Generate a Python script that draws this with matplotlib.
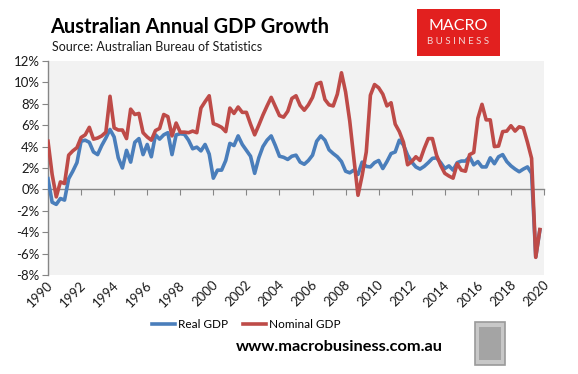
import numpy as np
import matplotlib
matplotlib.use("Agg")
import matplotlib.pyplot as plt
from matplotlib.patches import Rectangle
from matplotlib.transforms import ScaledTranslation

# ---- data (quarterly, annual % growth) ----
real_gdp = [1.0, -1.2, -1.4, -0.85, -1.0, 1.0, 1.7, 2.5, 4.5, 4.6,
            4.4, 3.5, 3.25, 4.1, 4.8, 5.6, 4.9, 2.95, 2.0, 3.65,
            2.55, 4.4, 4.75, 3.25, 4.2, 3.05, 5.1, 4.7, 5.1, 5.3,
            3.25, 5.1, 5.2, 5.15, 4.6, 3.8, 3.95, 3.6, 4.2, 3.3,
            1.05, 1.8, 1.8, 2.7, 4.3, 4.1, 5.0, 4.2, 3.65, 3.1,
            1.5, 2.95, 4.0, 4.6, 5.0, 4.1, 3.1, 3.0, 2.8, 3.1,
            3.2, 2.55, 2.35, 2.7, 3.2, 4.5, 5.0, 4.6, 3.7, 3.35,
            3.05, 2.6, 1.7, 1.55, 1.8, 1.4, 2.55, 2.15, 2.1, 2.5,
            2.7, 1.95, 2.6, 3.35, 3.5, 4.6, 4.15, 3.2, 2.55, 2.1,
            1.9, 2.15, 2.5, 2.9, 2.95, 2.5, 1.95, 2.2, 1.8, 2.5,
            2.65, 2.65, 3.05, 2.3, 2.6, 2.1, 2.1, 2.95, 2.4, 3.05,
            3.25, 2.6, 2.2, 1.9, 1.65, 1.9, 2.1, 1.5, -6.3, -3.8]
nominal_gdp = [4.5, 1.4, -0.7, 0.7, 0.55, 3.2, 3.6, 3.9, 4.85, 5.1,
               5.8, 4.7, 4.8, 5.0, 5.35, 8.7, 5.75, 5.55, 5.55, 4.75,
               7.5, 7.0, 7.1, 5.3, 4.9, 4.6, 5.5, 5.7, 7.0, 6.8,
               5.0, 6.2, 5.35, 5.35, 5.3, 5.45, 5.3, 7.6, 8.2, 8.75,
               6.15, 6.0, 5.8, 5.4, 7.6, 7.1, 7.7, 7.2, 7.2, 6.1,
               5.1, 6.0, 6.95, 7.8, 8.6, 7.75, 6.9, 6.75, 7.3, 8.5,
               8.75, 7.85, 7.4, 7.9, 8.6, 9.85, 10.0, 8.4, 7.9, 7.8,
               8.9, 10.9, 9.1, 6.4, 2.9, -0.55, 1.3, 3.5, 8.8, 9.8,
               9.5, 8.9, 7.8, 8.1, 6.1, 5.4, 4.4, 2.3, 2.6, 3.05,
               2.7, 3.8, 4.75, 4.75, 3.2, 2.25, 1.5, 1.25, 1.05, 2.4,
               1.8, 1.7, 3.25, 3.45, 6.65, 7.95, 6.5, 6.5, 4.0, 4.05,
               5.4, 5.45, 5.95, 5.45, 5.85, 5.75, 4.4, 2.9, -6.35, -3.75]
start_year = 1990
x_years = start_year + 0.25 * np.arange(len(real_gdp))
year_ticks = list(range(1990, 2021, 2))
y_ticks = list(range(-8, 13, 2))

FONT = ["Lato", "DejaVu Sans"]
plt.rcParams["font.family"] = FONT

W, H = 578, 374
fig = plt.figure(figsize=(W / 100, H / 100), dpi=100)
fig.patch.set_facecolor("white")

def fx(px):
    return px / W

def fy(py):
    return 1 - py / H

ax = fig.add_axes([fx(48), fy(275), fx(544) - fx(48), fy(61) - fy(275)])
ax.set_facecolor("#F2F2F2")

ax.plot(x_years, real_gdp, color="#4A7EBB", lw=2.6, solid_joinstyle="round",
        label="Real GDP", zorder=3)
ax.plot(x_years, nominal_gdp, color="#BE4B48", lw=2.6, solid_joinstyle="round",
        label="Nominal GDP", zorder=4)

ax.set_xlim(1990, 2020)
ax.set_ylim(-8, 12)

axis_col = "#868686"
for s in ["top", "right"]:
    ax.spines[s].set_visible(False)
ax.spines["left"].set_color(axis_col)
ax.spines["left"].set_linewidth(1.0)
ax.spines["bottom"].set_position(("data", 0))
ax.spines["bottom"].set_color(axis_col)
ax.spines["bottom"].set_linewidth(1.0)

ax.set_yticks(y_ticks)
ax.set_yticklabels([f"{v}%" for v in y_ticks], fontsize=9.5, color="#1a1a1a")
ax.tick_params(axis="y", direction="out", length=4, color=axis_col, pad=2)

ax.set_xticks(year_ticks)
ax.set_xticklabels([])
ax.tick_params(axis="x", direction="out", length=4, color=axis_col)

# rotated year labels below the plot area
trans = ax.get_xaxis_transform() + ScaledTranslation(3 / 100, -8 / 100, fig.dpi_scale_trans)
for yr in year_ticks:
    ax.text(yr, 0, str(yr), transform=trans, rotation=45, ha="right", va="center",
            rotation_mode="anchor", fontsize=9.5, color="#1a1a1a")

# legend
fig.legend(loc="center", bbox_to_anchor=(fx(246), fy(325)), ncol=2, frameon=False,
           fontsize=8.5, handlelength=1.95, handletextpad=0.25, columnspacing=1.3)

# titles
fig.text(fx(50), fy(27), "Australian Annual GDP Growth", fontsize=14.4,
         fontweight="bold", ha="left", va="center", color="black")
fig.text(fx(52), fy(47), "Source: Australian Bureau of Statistics", fontsize=9,
         ha="left", va="center", color="#1a1a1a")

# Macro Business logo
fig.patches.append(Rectangle((fx(417), fy(56)), fx(500) - fx(417), fy(9) - fy(56),
                             transform=fig.transFigure, facecolor="#E2201F",
                             edgecolor="none"))
fig.text(fx(458.5), fy(26), "MACRO", fontsize=11.5, color="white", ha="center",
         va="center", fontweight="normal")
fig.text(fx(458.5), fy(42), "B U S I N E S S", fontsize=7, color="#f2d8d8",
         ha="center", va="center")

# url
fig.text(fx(339), fy(347), "www.macrobusiness.com.au", fontsize=11.8,
         fontweight="bold", ha="center", va="center", color="black")

# wolf logo placeholder box
fig.patches.append(Rectangle((fx(475), fy(365)), fx(505) - fx(475), fy(322) - fy(365),
                             transform=fig.transFigure, facecolor="#C8C8C8",
                             edgecolor="#9a9a9a", lw=1.2))
fig.patches.append(Rectangle((fx(479), fy(360)), fx(501) - fx(479), fy(327) - fy(360),
                             transform=fig.transFigure, facecolor="#8c8c8c",
                             edgecolor="none", alpha=0.6))

fig.savefig("out.png", dpi=100, facecolor="white")
